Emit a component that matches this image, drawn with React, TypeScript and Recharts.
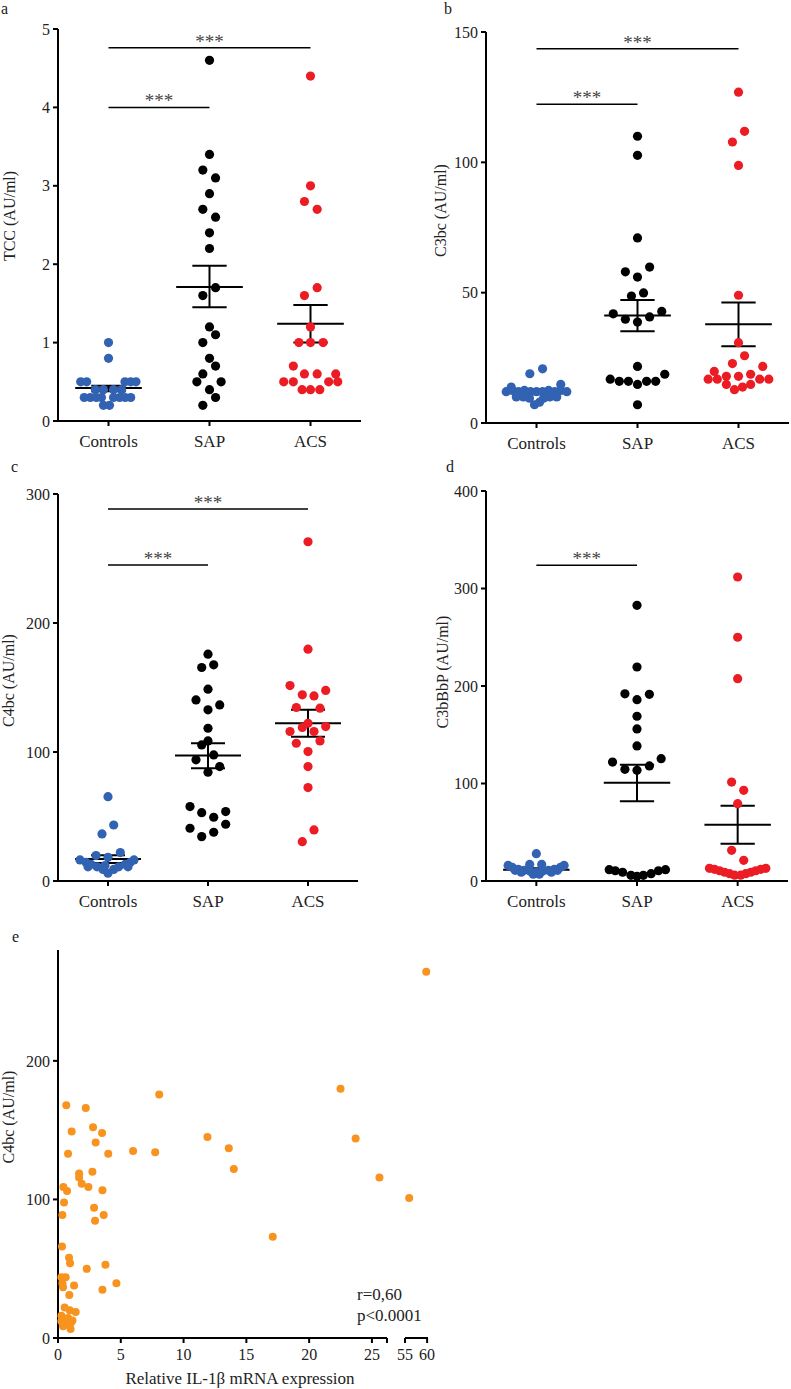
import React from "react"
import {
  ScatterChart,
  Scatter,
  XAxis,
  YAxis,
  ReferenceLine,
  ReferenceDot,
} from "recharts"

const FONT = '"Liberation Serif", "Times New Roman", serif'

const GROUPS = ["Controls", "SAP", "ACS"]
const GROUP_COLORS = ["#3262b2", "#000000", "#ec1c24"]

// each point: [horizontal spread within the group, value]
const tccControls = [
  [0, 1.0], [0, 0.8],
  [-0.275, 0.5], [-0.216, 0.5], [0.163, 0.5], [0.22, 0.5], [0.272, 0.5],
  [-0.13, 0.4], [-0.05, 0.4], [0.05, 0.4], [0.13, 0.4],
  [-0.24, 0.3], [-0.18, 0.3], [-0.12, 0.3], [-0.07, 0.3], [0.05, 0.3], [0.11, 0.3], [0.165, 0.3], [0.22, 0.3],
  [-0.05, 0.2], [0.01, 0.2],
]
const tccSap = [
  [0, 4.6], [0, 3.4], [-0.066, 3.2], [0.06, 3.1], [0, 2.9], [-0.066, 2.7], [0.06, 2.6],
  [0, 2.4], [0, 2.2], [-0.066, 1.6], [0.06, 1.7], [0, 1.2], [0.06, 1.1], [-0.066, 1.0],
  [0, 0.8], [0.06, 0.7], [-0.066, 0.6], [-0.125, 0.5], [0.115, 0.5], [0, 0.4], [0.06, 0.3], [-0.066, 0.2],
]
const tccAcs = [
  [0, 4.4], [0, 3.0], [-0.06, 2.8], [0.066, 2.7], [0.066, 1.7], [-0.06, 1.6], [0, 1.2],
  [-0.115, 1.0], [0, 1.0], [0.125, 1.0], [-0.17, 0.7],
  [-0.06, 0.6], [0.066, 0.6], [0.25, 0.6],
  [-0.265, 0.5], [-0.17, 0.5], [0.18, 0.5], [0.27, 0.5],
  [-0.083, 0.4], [0, 0.4], [0.092, 0.4],
]
const tccMean = [0.42, 1.71, 1.24]
const tccLow = [0.38, 1.45, 1.0]
const tccHigh = [0.45, 1.98, 1.48]
const tccSig = [
  { from: 0, to: 2, y: 4.76 },
  { from: 0, to: 1, y: 4.0 },
]

const c3bcControls = [
  [-0.066, 18.9], [0.06, 20.8], [0.24, 14.8], [-0.25, 13.8],
  [-0.3, 12], [-0.24, 12.5], [-0.18, 12], [-0.12, 12.5], [-0.06, 12], [0, 12], [0.06, 12], [0.12, 12.5], [0.18, 12], [0.24, 12.5], [0.3, 12],
  [-0.2, 10], [-0.13, 10], [-0.07, 9.5], [0.07, 9.5], [0.13, 10], [0.2, 10],
  [-0.02, 7], [0.03, 8],
]
const c3bcSap = [
  [0, 110], [0, 102.7], [0, 71], [-0.12, 58], [0.12, 59.8], [0, 56], [-0.06, 48.7], [0.06, 49.9],
  [-0.24, 41.9], [0.24, 42.8], [-0.12, 39.8], [0, 38.7], [0.12, 40.7], [0, 21.7],
  [-0.27, 16.8], [-0.18, 16], [-0.09, 16], [0, 14.8], [0.09, 16], [0.18, 16], [0.27, 18.7], [0, 7],
]
const c3bcAcs = [
  [0, 126.9], [0.06, 111.9], [-0.06, 107.8], [0, 98.8], [0, 49], [0, 30.8], [0.06, 25.8], [-0.06, 22.8],
  [-0.24, 19.8], [0.24, 21.7], [0.12, 18.7], [0, 17.9], [-0.3, 16.8], [-0.21, 16.8], [-0.12, 17.9],
  [0.21, 16.8], [0.3, 16.8], [-0.12, 14.8], [0.12, 14.8], [0.04, 13.8], [-0.04, 12.8],
]
const c3bcMean = [12, 41.2, 37.9]
const c3bcLow = [11, 35.2, 29.4]
const c3bcHigh = [13, 47.2, 46.2]
const c3bcSig = [
  { from: 0, to: 2, y: 143.6 },
  { from: 0, to: 1, y: 122.3 },
]

const c4bcControls = [
  [0, 65.4], [0.057, 43.4], [-0.06, 36.5], [0.123, 22], [-0.12, 19.7], [0, 18.4],
  [-0.28, 16.3], [-0.22, 14.5], [-0.17, 13], [-0.11, 11], [-0.05, 9], [0, 6], [0.057, 9],
  [0.107, 11], [0.173, 13], [0.223, 14.5], [0.26, 16.3], [-0.2, 11], [0.2, 11], [-0.03, 12],
]
const c4bcSap = [
  [0, 175.8], [-0.063, 165.5], [0.057, 167.6], [0, 148.7], [-0.12, 140.4], [0.117, 136.5], [0, 132.7],
  [0, 118.4], [0, 108.6], [-0.063, 105.5], [0.057, 97.7], [-0.12, 93.9], [0.117, 88.7], [0, 84.3],
  [-0.18, 57.7], [-0.063, 53], [0.177, 53.8], [0.057, 49.4], [-0.18, 40.9], [0.177, 44], [0.057, 37.8], [-0.063, 34.4],
]
const c4bcAcs = [
  [0, 263], [0, 179.7], [-0.18, 151.5], [0.177, 147.7], [-0.057, 144.3], [0.06, 143.5], [-0.117, 134.5],
  [0.12, 134], [0, 122.3], [-0.18, 115.9], [-0.057, 119], [0.06, 115.9], [0.177, 119.7], [-0.117, 106.8],
  [0.12, 108.6], [0, 100.3], [0, 88.7], [0, 72.4], [0.06, 39.6], [-0.057, 30.5],
]
const c4bcMean = [17, 97.2, 122.3]
const c4bcLow = [14, 87.4, 111.8]
const c4bcHigh = [20, 106.8, 132.7]
const c4bcSig = [
  { from: 0, to: 2, y: 288.3 },
  { from: 0, to: 1, y: 244.9 },
]

const c3bbbpControls = [
  [0, 28], [-0.066, 17], [0.053, 17], [-0.28, 16], [0.276, 16],
  [-0.24, 14], [-0.18, 12], [-0.12, 11], [-0.06, 10], [0, 9], [0.06, 10], [0.12, 11], [0.18, 12], [0.24, 14],
  [-0.15, 9], [-0.03, 7], [0.03, 7], [0.15, 9], [-0.21, 11], [0.21, 11],
]
const c3bbbpSap = [
  [0, 282.7], [0, 219.5], [-0.12, 192], [0.123, 191.5], [0, 186], [0, 169], [0, 156], [0, 138.5],
  [-0.243, 122], [0.24, 125.5], [0.123, 118], [-0.12, 114.5], [0, 113.5],
  [-0.276, 11.6], [-0.216, 10.5], [-0.143, 9], [-0.06, 5.8], [0, 4.8], [0.063, 5.8], [0.14, 7.5], [0.213, 10.5], [0.283, 11.6],
]
const c3bbbpAcs = [
  [0, 311.8], [0, 250], [0, 207.5], [-0.06, 101.5], [0.06, 93], [0, 79.3], [-0.06, 31.5], [0.06, 21.2],
  [-0.28, 13], [-0.23, 12], [-0.18, 10.5], [-0.13, 9], [-0.08, 7.5], [-0.03, 6], [0.03, 6], [0.08, 7.5],
  [0.13, 9], [0.18, 10.5], [0.23, 12], [0.28, 13],
]
const c3bbbpMean = [11.6, 100.7, 57.8]
const c3bbbpLow = [10.5, 81.7, 38.3]
const c3bbbpHigh = [13, 119.3, 77.3]
const c3bbbpSig = [{ from: 0, to: 1, y: 323.8 }]

// panel e: [IL-1beta mRNA, C4bc]
const il1bMain = [
  [25.6, 115.8], [23.7, 143.9], [22.5, 179.9], [17.1, 73.1], [14.0, 122], [13.6, 137], [11.9, 145],
  [8.06, 175.8], [7.74, 134], [5.98, 135], [4.65, 39.6], [4.0, 133], [3.78, 52.8], [3.64, 88.7],
  [3.54, 106.7], [3.51, 148], [3.54, 34.8], [3.0, 141], [2.95, 84.7], [2.87, 94], [2.79, 152],
  [2.74, 120], [2.42, 109], [2.29, 49.9], [2.21, 166], [1.89, 111.3], [1.68, 118.7], [1.68, 115.8],
  [1.41, 18.7], [1.28, 37.9], [1.09, 149], [0.96, 54], [0.88, 58], [0.9, 31], [0.8, 133], [0.93, 20],
  [0.66, 167.9], [0.72, 106], [0.61, 43.9], [0.53, 22], [0.48, 97.8], [0.43, 109], [0.35, 88.7],
  [0.32, 66], [0.27, 43.9], [0.35, 39.6], [0.4, 36.7],
  [0.27, 16], [0.53, 13], [0.8, 14.4], [1.06, 11.3], [0.66, 9.6], [0.4, 8.4], [1.0, 6.5], [0.27, 12],
  [1.15, 12.7], [0.8, 10.8],
]
const il1bHigh = [
  [59.8, 264.3], [55.95, 101],
]

const toPoints = (group: number, pts: number[][]) => pts.map(([dx, v]) => ({ x: group + dx, y: v }))

const axisStroke = { stroke: "#000", strokeWidth: 2 }

interface Sig {
  from: number
  to: number
  y: number
}

interface DotPanelProps {
  left: number
  top: number
  width: number
  height: number
  margin: { top: number; right: number; bottom: number; left: number }
  domain: number[]
  ticks: number[]
  yLabel: string
  labelDx: number
  labelDy: number
  groups: number[][][]
  mean: number[]
  low: number[]
  high: number[]
  sig: Sig[]
}

function DotPanel(p: DotPanelProps) {
  return (
    <div style={{ position: "absolute", left: p.left, top: p.top }}>
      <ScatterChart width={p.width} height={p.height} margin={p.margin}>
        <XAxis
          type="number"
          dataKey="x"
          domain={[-0.5, 2.5]}
          ticks={[0, 1, 2]}
          interval={0}
          tickFormatter={(v) => GROUPS[v]}
          axisLine={axisStroke}
          tickLine={axisStroke}
          tickSize={5}
          tickMargin={9}
          height={30}
          tick={{ fill: "#222", fontSize: 17, fontFamily: FONT }}
        />
        <YAxis
          type="number"
          dataKey="y"
          domain={p.domain}
          ticks={p.ticks}
          interval={0}
          axisLine={axisStroke}
          tickLine={axisStroke}
          tickSize={5}
          tickMargin={3}
          width={58}
          tick={{ fill: "#222", fontSize: 16, fontFamily: FONT }}
          label={{
            value: p.yLabel,
            angle: -90,
            position: "center",
            dx: p.labelDx,
            dy: p.labelDy,
            fill: "#222",
            fontSize: 16,
            fontFamily: FONT,
          }}
        />
        {p.groups.map((pts, i) => (
          <Scatter
            key={GROUPS[i]}
            data={toPoints(i, pts)}
            isAnimationActive={false}
            shape={(s: any) => <circle cx={s.cx} cy={s.cy} r={4.6} fill={GROUP_COLORS[i]} />}
          />
        ))}
        {p.mean.map((m, i) => (
          <ReferenceLine
            key={`m${i}`}
            segment={[{ x: i - 0.33, y: m }, { x: i + 0.33, y: m }]}
            stroke="#000"
            strokeWidth={2}
            ifOverflow="visible"
          />
        ))}
        {p.low.map((lo, i) => (
          <ReferenceLine
            key={`v${i}`}
            segment={[{ x: i, y: lo }, { x: i, y: p.high[i] }]}
            stroke="#000"
            strokeWidth={2}
            ifOverflow="visible"
          />
        ))}
        {p.low.map((lo, i) => (
          <ReferenceLine
            key={`l${i}`}
            segment={[{ x: i - 0.17, y: lo }, { x: i + 0.17, y: lo }]}
            stroke="#000"
            strokeWidth={2}
            ifOverflow="visible"
          />
        ))}
        {p.high.map((hi, i) => (
          <ReferenceLine
            key={`h${i}`}
            segment={[{ x: i - 0.17, y: hi }, { x: i + 0.17, y: hi }]}
            stroke="#000"
            strokeWidth={2}
            ifOverflow="visible"
          />
        ))}
        {p.sig.map((s, i) => (
          <ReferenceLine
            key={`s${i}`}
            segment={[{ x: s.from, y: s.y }, { x: s.to, y: s.y }]}
            stroke="#000"
            strokeWidth={1.5}
            ifOverflow="visible"
          />
        ))}
        {p.sig.map((s, i) => (
          <ReferenceDot
            key={`st${i}`}
            x={(s.from + s.to) / 2}
            y={s.y}
            r={0}
            fill="none"
            stroke="none"
            ifOverflow="visible"
            label={{ value: "***", position: "top", offset: 0, fill: "#444", fontSize: 19, fontFamily: FONT }}
          />
        ))}
      </ScatterChart>
    </div>
  )
}

const letterStyle: React.CSSProperties = { fontFamily: FONT, fontSize: 16, fill: "#222" }

export default function App() {
  const mainPoints = il1bMain.map(([x, y]) => ({ x, y }))
  const highPoints = il1bHigh.map(([x, y]) => ({ x, y }))
  const dot = (s: any) => <circle cx={s.cx} cy={s.cy} r={4} fill="#f7931e" />

  return (
    <div style={{ position: "absolute", left: 0, top: 0, width: 791, height: 1389, background: "#fff", fontFamily: FONT }}>
      <DotPanel
        left={0} top={0} width={364} height={460}
        margin={{ top: 29, right: 3, bottom: 9, left: 0 }}
        domain={[0, 5]} ticks={[0, 1, 2, 3, 4, 5]}
        yLabel="TCC (AU/ml)" labelDx={-20} labelDy={-9}
        groups={[tccControls, tccSap, tccAcs]}
        mean={tccMean} low={tccLow} high={tccHigh} sig={tccSig}
      />
      <DotPanel
        left={428} top={0} width={363} height={460}
        margin={{ top: 32, right: 2, bottom: 7, left: 0 }}
        domain={[0, 150]} ticks={[0, 50, 100, 150]}
        yLabel="C3bc (AU/ml)" labelDx={-17} labelDy={-17}
        groups={[c3bcControls, c3bcSap, c3bcAcs]}
        mean={c3bcMean} low={c3bcLow} high={c3bcHigh} sig={c3bcSig}
      />
      <DotPanel
        left={0} top={460} width={364} height={460}
        margin={{ top: 34, right: 6, bottom: 9, left: 0 }}
        domain={[0, 300]} ticks={[0, 100, 200, 300]}
        yLabel="C4bc (AU/ml)" labelDx={-21} labelDy={-7}
        groups={[c4bcControls, c4bcSap, c4bcAcs]}
        mean={c4bcMean} low={c4bcLow} high={c4bcHigh} sig={c4bcSig}
      />
      <DotPanel
        left={428} top={460} width={363} height={460}
        margin={{ top: 31, right: 3, bottom: 9, left: 0 }}
        domain={[0, 400]} ticks={[0, 100, 200, 300, 400]}
        yLabel="C3bBbP (AU/ml)" labelDx={-15} labelDy={-14}
        groups={[c3bbbpControls, c3bbbpSap, c3bbbpAcs]}
        mean={c3bbbpMean} low={c3bbbpLow} high={c3bbbpHigh} sig={c3bbbpSig}
      />

      {/* panel e, left part of the broken x axis */}
      <div style={{ position: "absolute", left: 0, top: 930 }}>
        <ScatterChart width={400} height={450} margin={{ top: 20, right: 13, bottom: 12, left: 0 }}>
          <XAxis
            type="number"
            dataKey="x"
            domain={[0, 26.2]}
            ticks={[0, 5, 10, 15, 20, 25, 26.2]}
            interval={0}
            tickFormatter={(v) => (v > 25 ? "" : String(v))}
            axisLine={axisStroke}
            tickLine={axisStroke}
            tickSize={5}
            tickMargin={6}
            height={30}
            tick={{ fill: "#222", fontSize: 16, fontFamily: FONT }}
          />
          <YAxis
            type="number"
            dataKey="y"
            domain={[0, 280]}
            ticks={[0, 100, 200]}
            interval={0}
            axisLine={axisStroke}
            tickLine={axisStroke}
            tickSize={5}
            tickMargin={3}
            width={58}
            tick={{ fill: "#222", fontSize: 16, fontFamily: FONT }}
            label={{
              value: "C4bc (AU/ml)",
              angle: -90,
              position: "center",
              dx: -21,
              dy: -27,
              fill: "#222",
              fontSize: 16,
              fontFamily: FONT,
            }}
          />
          <Scatter data={mainPoints} isAnimationActive={false} shape={dot} />
        </ScatterChart>
      </div>

      {/* panel e, 55-60 segment after the break */}
      <div style={{ position: "absolute", left: 390, top: 930 }}>
        <ScatterChart width={50} height={450} margin={{ top: 20, right: 12, bottom: 12, left: 15 }}>
          <XAxis
            type="number"
            dataKey="x"
            domain={[55, 60.2]}
            ticks={[55, 60]}
            interval={0}
            axisLine={axisStroke}
            tickLine={axisStroke}
            tickSize={5}
            tickMargin={6}
            height={30}
            tick={{ fill: "#222", fontSize: 16, fontFamily: FONT }}
          />
          <YAxis type="number" dataKey="y" domain={[0, 280]} hide />
          <Scatter data={highPoints} isAnimationActive={false} shape={dot} />
        </ScatterChart>
      </div>

      <svg width={791} height={1389} style={{ position: "absolute", left: 0, top: 0, pointerEvents: "none" }}>
        <text x={1} y={14} style={letterStyle}>a</text>
        <text x={444} y={14} style={letterStyle}>b</text>
        <text x={11} y={472} style={letterStyle}>c</text>
        <text x={446} y={472} style={letterStyle}>d</text>
        <text x={12} y={942} style={letterStyle}>e</text>
        <text x={357} y={1300} style={{ fontFamily: FONT, fontSize: 17, fill: "#222" }}>r=0,60</text>
        <text x={357} y={1321} style={{ fontFamily: FONT, fontSize: 17, fill: "#222" }}>p&lt;0.0001</text>
        <text x={240} y={1384} textAnchor="middle" style={{ fontFamily: FONT, fontSize: 17, fill: "#222" }}>
          Relative IL-1β mRNA expression
        </text>
      </svg>
    </div>
  )
}
